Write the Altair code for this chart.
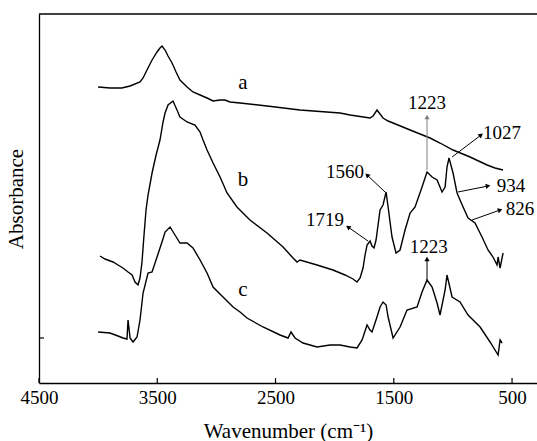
import math
import altair as alt
import pandas as pd

# ---- spectra (wavenumber in cm-1, absorbance in arbitrary units) ----
wn_a = [4000, 3900, 3800, 3730, 3646, 3620, 3587, 3544, 3502, 3477, 3460, 3434, 3409, 3375,
        3341, 3308, 3248, 3198, 3138, 3079, 3028, 2969, 2927, 2885, 2800, 2572, 2293, 1954,
        1870, 1701, 1675, 1642, 1616, 1591, 1548, 1506, 1362, 1193, 1109, 999, 855, 711, 644, 576]
abs_a = [2.96, 2.95, 2.95, 2.97, 3.01, 3.05, 3.13, 3.23, 3.31, 3.35, 3.37, 3.33, 3.27, 3.20,
         3.11, 3.03, 2.96, 2.91, 2.88, 2.85, 2.82, 2.83, 2.83, 2.81, 2.80, 2.77, 2.73, 2.70,
         2.68, 2.65, 2.67, 2.73, 2.69, 2.65, 2.62, 2.60, 2.53, 2.45, 2.40, 2.33, 2.26, 2.18, 2.15, 2.13]

wn_b = [3984, 3942, 3874, 3832, 3790, 3747, 3713, 3688, 3663, 3646, 3629, 3612, 3595, 3578,
        3544, 3510, 3477, 3451, 3434, 3409, 3367, 3333, 3308, 3248, 3181, 3138, 3113, 3079,
        3028, 2969, 2910, 2826, 2716, 2572, 2436, 2352, 2318, 2293, 2149, 2014, 1912, 1845,
        1811, 1785, 1760, 1743, 1726, 1701, 1684, 1667, 1650, 1616, 1591, 1565, 1548, 1515,
        1481, 1447, 1405, 1362, 1320, 1261, 1219, 1176, 1134, 1092, 1066, 1050, 1033, 999,
        965, 914, 872, 813, 754, 703, 661, 627, 618, 601, 576]
abs_b = [1.27, 1.24, 1.21, 1.18, 1.15, 1.11, 1.08, 1.01, 0.98, 1.05, 1.21, 1.48, 1.73, 1.88,
         2.10, 2.28, 2.43, 2.61, 2.70, 2.78, 2.82, 2.73, 2.66, 2.61, 2.58, 2.51, 2.43, 2.33,
         2.20, 2.06, 1.90, 1.76, 1.63, 1.50, 1.36, 1.25, 1.21, 1.23, 1.18, 1.13, 1.08, 1.04,
         1.01, 1.05, 1.15, 1.28, 1.38, 1.42, 1.37, 1.35, 1.43, 1.73, 1.78, 1.91, 1.76, 1.46,
         1.30, 1.33, 1.53, 1.70, 1.76, 1.96, 2.11, 2.06, 2.03, 1.91, 1.96, 2.16, 2.25, 2.10,
         1.90, 1.76, 1.65, 1.60, 1.46, 1.33, 1.26, 1.18, 1.26, 1.15, 1.30]

wn_c = [4000, 3900, 3832, 3790, 3756, 3747, 3730, 3705, 3671, 3646, 3620, 3578, 3544, 3502,
        3460, 3434, 3392, 3350, 3308, 3248, 3198, 3138, 3079, 3028, 2944, 2859, 2800, 2741,
        2606, 2462, 2394, 2369, 2335, 2267, 2149, 2039, 1954, 1870, 1811, 1768, 1726, 1701,
        1684, 1642, 1616, 1591, 1565, 1548, 1506, 1447, 1388, 1303, 1261, 1219, 1176, 1134,
        1109, 1066, 1050, 1007, 940, 872, 770, 686, 618, 601, 584]
abs_c = [0.51, 0.50, 0.47, 0.45, 0.44, 0.63, 0.45, 0.41, 0.46, 0.63, 0.90, 1.10, 1.11, 1.26,
         1.41, 1.51, 1.56, 1.48, 1.40, 1.40, 1.35, 1.23, 1.10, 0.96, 0.86, 0.76, 0.71, 0.65,
         0.56, 0.48, 0.45, 0.51, 0.45, 0.40, 0.36, 0.38, 0.38, 0.36, 0.35, 0.43, 0.58, 0.53,
         0.51, 0.66, 0.76, 0.81, 0.78, 0.66, 0.45, 0.56, 0.73, 0.76, 0.91, 1.03, 0.96, 0.80,
         0.68, 0.93, 1.08, 0.86, 0.81, 0.68, 0.56, 0.41, 0.28, 0.43, 0.40]

# ---- axis ticks ----
x_ticks = [4500, 3500, 2500, 1500, 500]
y_ticks = [0.45]

# ---- trace letters ----
trace_labels = ["a", "b", "c"]
trace_label_wn = [2775, 2775, 2775]
trace_label_abs = [3.00, 2.03, 0.93]

# ---- peak annotations: label text + position, arrow start/end ----
peak_text = ["1223", "1027", "1560", "1719", "934", "826", "1223"]
peak_text_wn = [1219, 584, 1912, 2081, 508, 432, 1205]
peak_text_abs = [2.80, 2.50, 2.11, 1.63, 1.97, 1.74, 1.36]
arrow_wn0 = [1219, 1007, 1574, 1718, 957, 838, 1219]
arrow_abs0 = [2.13, 2.26, 1.91, 1.42, 1.91, 1.63, 1.03]
arrow_wn1 = [1219, 762, 1726, 1887, 703, 601, 1219]
arrow_abs1 = [2.66, 2.48, 2.08, 1.56, 1.97, 1.73, 1.24]
arrow_color = ["#7f7f7f", "black", "black", "black", "black", "black", "black"]

# ---- layout ----
W, H = 498, 369
X_DOMAIN = [4500, 289]
Y_DOMAIN = [0, 3.69]
FONT = "Liberation Serif"
FS = 19
TFS = 21

rows = []
for name, wn, ab in (("a", wn_a, abs_a), ("b", wn_b, abs_b), ("c", wn_c, abs_c)):
    for i, (w, v) in enumerate(zip(wn, ab)):
        rows.append({"trace": name, "wn": w, "abs": v, "i": i})
spectra = pd.DataFrame(rows)

px_w = W / (X_DOMAIN[0] - X_DOMAIN[1])
px_a = H / (Y_DOMAIN[1] - Y_DOMAIN[0])
angles = []
for w0, a0, w1, a1 in zip(arrow_wn0, arrow_abs0, arrow_wn1, arrow_abs1):
    dx = -(w1 - w0) * px_w
    dy = -(a1 - a0) * px_a
    angles.append(math.degrees(math.atan2(dx, -dy)) % 360)

arrows = pd.DataFrame({"w0": arrow_wn0, "a0": arrow_abs0, "w1": arrow_wn1,
                       "a1": arrow_abs1, "col": arrow_color, "ang": angles})
peaks = pd.DataFrame({"t": peak_text, "w": peak_text_wn, "a": peak_text_abs})
letters = pd.DataFrame({"t": trace_labels, "w": trace_label_wn, "a": trace_label_abs})
xt = pd.DataFrame({"w": x_ticks})
yt = pd.DataFrame({"a": y_ticks})

xs = alt.Scale(domain=X_DOMAIN, nice=False, zero=False)
ys = alt.Scale(domain=Y_DOMAIN, nice=False, zero=False)
x_axis = alt.Axis(values=x_ticks, format="d", tickSize=0, labelFlush=False,
                  labelPadding=5, titlePadding=13, grid=False)
y_axis = alt.Axis(labels=False, ticks=False, grid=False, titlePadding=13)
X_TITLE = "Wavenumber (cm\u207b\u00b9)"
Y_TITLE = "Absorbance"


def X(field):
    return alt.X(field, type="quantitative", scale=xs, axis=x_axis, title=X_TITLE)


def Y(field):
    return alt.Y(field, type="quantitative", scale=ys, axis=y_axis, title=Y_TITLE)


lines = alt.Chart(spectra).mark_line(color="black", strokeWidth=1.4).encode(
    x=X("wn"), y=Y("abs"), detail="trace:N", order="i:Q")

xtick = alt.Chart(xt).mark_rule(color="black", strokeWidth=1.2).encode(
    x=X("w"), y=alt.value(H), y2=alt.value(H - 5))
ytick = alt.Chart(yt).mark_rule(color="black", strokeWidth=1.2).encode(
    y=Y("a"), x=alt.value(0), x2=alt.value(5))
top = alt.Chart(pd.DataFrame({"k": [0]})).mark_rule(color="black", strokeWidth=1.3).encode(
    x=alt.value(0), x2=alt.value(W), y=alt.value(0))

arrow_lines = alt.Chart(arrows).mark_rule(strokeWidth=1).encode(
    x=X("w0"), y=Y("a0"), x2="w1:Q", y2="a1:Q", color=alt.Color("col:N", scale=None))
arrow_heads = alt.Chart(arrows).mark_point(shape="triangle-up", filled=True, size=28, opacity=1).encode(
    x=X("w1"), y=Y("a1"),
    angle=alt.Angle("ang:Q", scale=None), color=alt.Color("col:N", scale=None))

peak_labels = alt.Chart(peaks).mark_text(font=FONT, fontSize=FS, color="black",
                                         align="center", baseline="middle").encode(
    x=X("w"), y=Y("a"), text="t:N")
letter_labels = alt.Chart(letters).mark_text(font=FONT, fontSize=FS + 2, color="black",
                                             align="center", baseline="middle").encode(
    x=X("w"), y=Y("a"), text="t:N")

chart = alt.layer(lines, xtick, ytick, top, arrow_lines, arrow_heads, peak_labels, letter_labels).properties(
    width=W, height=H,
    autosize=alt.AutoSizeParams(type="none"),
    padding={"left": 39, "top": 14, "right": 0, "bottom": 58},
).configure_view(stroke=None).configure_axis(
    labelFont=FONT, titleFont=FONT, labelFontSize=FS, titleFontSize=TFS,
    titleFontWeight="normal", labelColor="black", titleColor="black",
    domainColor="black", domainWidth=1.3,
)

chart.save("out.html", embed_options={"renderer": "svg", "actions": False})
